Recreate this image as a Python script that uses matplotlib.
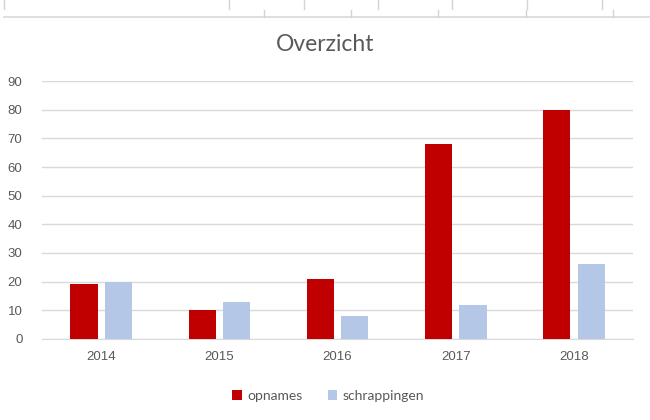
import numpy as np
import matplotlib
matplotlib.use("Agg")
import matplotlib.pyplot as plt
from matplotlib.lines import Line2D

# data
jaren = ["2014", "2015", "2016", "2017", "2018"]
opnames = [19, 10, 21, 68, 80]
schrappingen = [20, 13, 8, 12, 26]

rood = "#c00000"
blauw = "#b4c7e7"
grijs = "#595959"
raster = "#d9d9d9"

plt.rcParams['font.family'] = ['Liberation Sans', 'DejaVu Sans']

fig = plt.figure(figsize=(6.5, 4.2), dpi=100)
ax = fig.add_axes([0.0646, 0.193, 0.9094, 0.614])

x = np.arange(len(jaren))
w = 0.23
ax.bar(x - 0.145, opnames, w, color=rood, label="opnames", zorder=3)
ax.bar(x + 0.145, schrappingen, w, color=blauw, label="schrappingen", zorder=3)

ax.set_xlim(-0.5, len(jaren) - 0.5)
ax.set_ylim(0, 90)
ax.set_yticks(range(0, 91, 10))
ax.set_xticks(x)
ax.set_xticklabels(jaren)
ax.yaxis.grid(True, color=raster, linewidth=1, zorder=0)
for s in ["top", "right", "left"]:
    ax.spines[s].set_visible(False)
ax.spines["bottom"].set_color(raster)
ax.tick_params(axis="both", length=0, colors=grijs, labelsize=9.5)
ax.tick_params(axis="y", pad=14)
ax.tick_params(axis="x", pad=9)

fig.text(0.5, 0.894, "Overzicht", ha="center", va="center", fontsize=16.5,
         color=grijs, family=["Lato", "DejaVu Sans"])

fig.legend(loc="center", bbox_to_anchor=(0.505, 0.057), ncol=2, frameon=False,
           prop={"family": ["Lato", "DejaVu Sans"], "size": 10}, labelcolor=grijs,
           handlelength=0.7, handleheight=0.7, handletextpad=0.4, columnspacing=1.8)

# excel-cellijnen bovenaan
H, W = 420.0, 650.0
fig.add_artist(Line2D([4 / W, 1], [1 - 17 / H, 1 - 17 / H], color="#d9d9d9", lw=1.2))
for px in [4, 229, 304, 378, 452, 527, 602]:
    fig.add_artist(Line2D([px / W, px / W], [1, 1 - 9 / H], color="#d4d4d4", lw=1))
for px in [264, 351, 438, 526, 613]:
    fig.add_artist(Line2D([px / W, px / W], [1 - 10 / H, 1 - 17 / H], color="#d4d4d4", lw=1))

fig.savefig("out.png", dpi=100)
